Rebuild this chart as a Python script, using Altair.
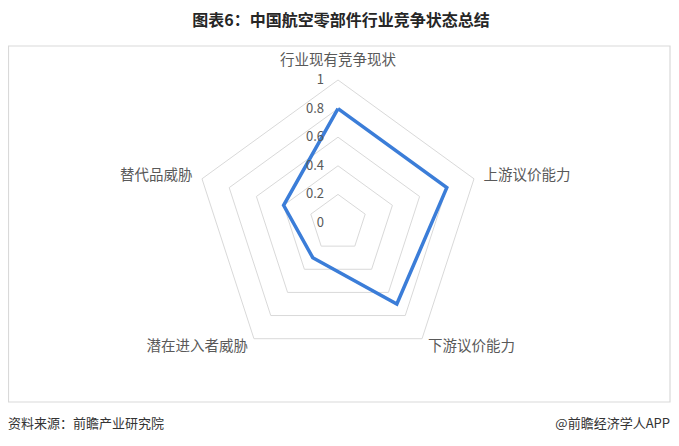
import altair as alt
import pandas as pd

# ---- data ----
categories = ["行业现有竞争现状", "上游议价能力", "下游议价能力", "潜在进入者威胁", "替代品威胁"]
values = [0.8, 0.8, 0.7, 0.3, 0.4]
levels = [0.2, 0.4, 0.6, 0.8, 1.0]
tick_values = [0, 0.2, 0.4, 0.6, 0.8, 1.0]
tick_labels = ["0", "0.2", "0.4", "0.6", "0.8", "1"]
title_text = "图表6：中国航空零部件行业竞争状态总结"
source_text = "资料来源：前瞻产业研究院"
brand_text = "@前瞻经济学人APP"

n = len(categories)
series_df = pd.DataFrame({
    "ord": list(range(n + 1)),
    "idx": [i % n for i in range(n + 1)],
    "cat": [categories[i % n] for i in range(n + 1)],
    "r": [values[i % n] for i in range(n + 1)],
})
grid_df = pd.DataFrame(
    [{"level": lv, "ord": i, "idx": i % n, "r": lv} for lv in levels for i in range(n + 1)]
)
label_df = pd.DataFrame({"idx": list(range(n)), "cat": categories})
tick_df = pd.DataFrame({"r": tick_values, "label": tick_labels})
dummy = pd.DataFrame({"a": [0]})

# ---- layout ----
W, H = 663, 428
CX, CY, UNIT = 330, 215, 143.0
xdom = [-CX / UNIT, (W - CX) / UNIT]
ydom = [-(H - CY) / UNIT, CY / UNIT]
FONT = "Noto Sans CJK SC"

xs = alt.X("x:Q", scale=alt.Scale(domain=xdom, nice=False, zero=False), axis=None)
ys = alt.Y("y:Q", scale=alt.Scale(domain=ydom, nice=False, zero=False), axis=None)

ang = "datum.idx * 2 * PI / 5"

def polar(chart, rexpr="datum.r"):
    return chart.transform_calculate(
        x=f"({rexpr}) * sin({ang})", y=f"({rexpr}) * cos({ang})"
    )

border = alt.Chart(dummy).mark_rect(
    filled=False, stroke="#d9d9d9", strokeWidth=1.2
).encode(x=alt.value(0.5), x2=alt.value(662), y=alt.value(38), y2=alt.value(394))

grid = polar(alt.Chart(grid_df)).mark_line(
    color="#d9d9d9", strokeWidth=1, strokeJoin="miter"
).encode(x=xs, y=ys, detail="level:N", order="ord:Q")

series = polar(alt.Chart(series_df)).mark_line(
    color="#3b7dd8", strokeWidth=3.5, strokeJoin="miter"
).encode(x=xs, y=ys, order="ord:Q")

ticks = alt.Chart(tick_df).transform_calculate(x="0", y="datum.r").mark_text(
    align="right", baseline="middle", dx=-14, font=FONT, fontSize=13, color="#595959"
).encode(x=xs, y=ys, text="label:N")

def cat_layer(filt, align, dy=0):
    return polar(alt.Chart(label_df).transform_filter(filt), "1.07").mark_text(
        align=align, baseline="middle", dy=dy, font=FONT, fontSize=14.5, color="#595959"
    ).encode(x=xs, y=ys, text="cat:N")

lab_top = cat_layer("datum.idx == 0", "center", -9)
lab_right = cat_layer("datum.idx == 1 || datum.idx == 2", "left")
lab_left = cat_layer("datum.idx == 3 || datum.idx == 4", "right")

title = alt.Chart(dummy).mark_text(
    text=title_text, align="center", baseline="middle", font=FONT,
    fontSize=16, fontWeight="bold", color="#262626"
).encode(x=alt.value(333), y=alt.value(13))

src = alt.Chart(dummy).mark_text(
    text=source_text, align="left", baseline="middle", font=FONT,
    fontSize=13, color="#333333"
).encode(x=alt.value(0), y=alt.value(416))

brand = alt.Chart(dummy).mark_text(
    text=brand_text, align="right", baseline="middle", font=FONT,
    fontSize=13, color="#333333"
).encode(x=alt.value(662), y=alt.value(416))

chart = alt.layer(
    border, grid, series, ticks, lab_top, lab_right, lab_left, title, src, brand
).properties(
    width=W, height=H, autosize=alt.AutoSizeParams(type="none"), padding=0
).configure_view(stroke=None)

chart.save("out.html", embed_options={"renderer": "svg", "actions": False})
